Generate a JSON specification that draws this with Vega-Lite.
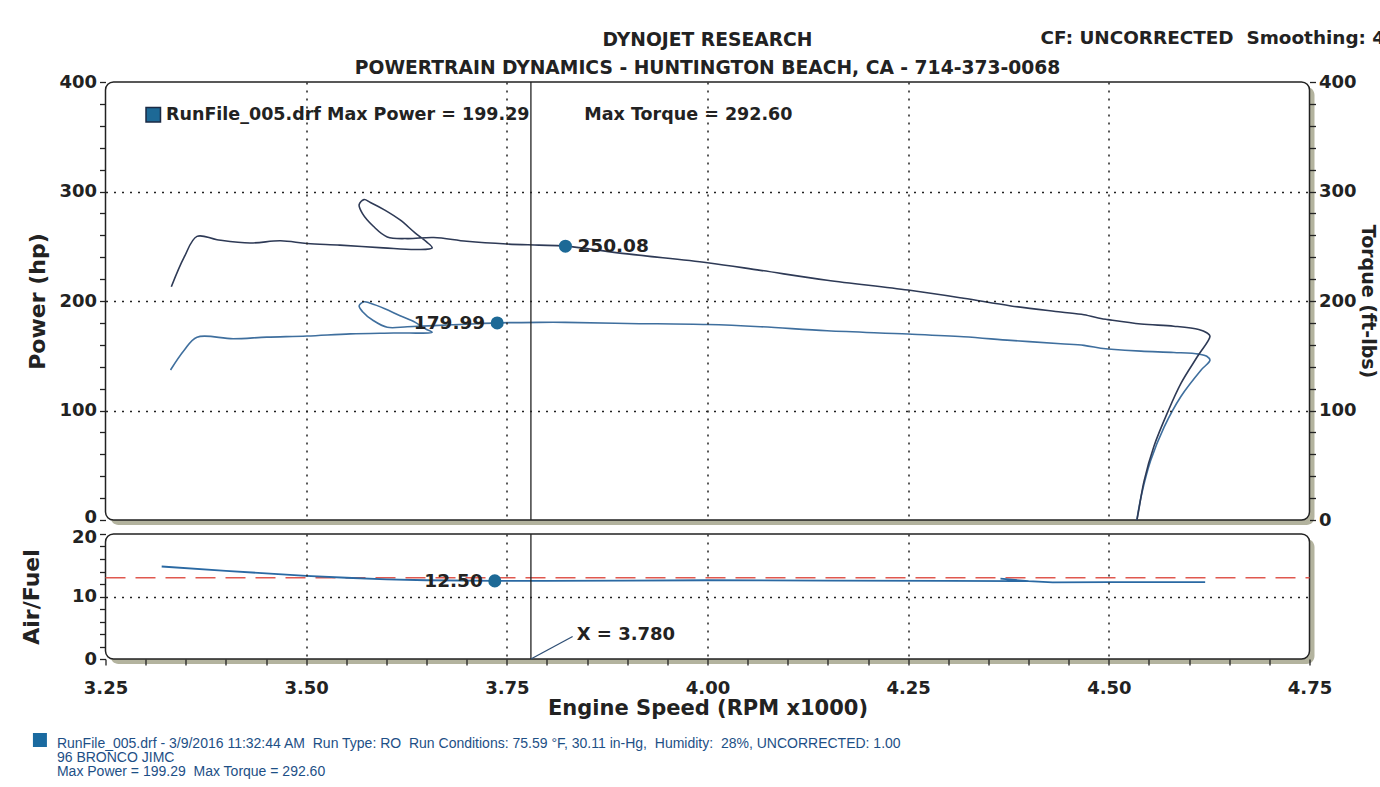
{
  "$schema": "https://vega.github.io/schema/vega-lite/v6.json",
  "background": "white",
  "padding": {"left": 20.5, "top": 29, "right": 0, "bottom": 0},
  "config": {
    "font": "DejaVu Sans",
    "view": {"stroke": null},
    "axis": {
      "labelFont": "DejaVu Sans", "labelFontWeight": "bold", "labelFontSize": 18, "labelColor": "#222",
      "titleFont": "DejaVu Sans", "titleFontWeight": "bold", "titleFontSize": 22, "titleColor": "#222",
      "domain": false, "tickColor": "#222", "tickWidth": 1.3, "tickSize": 6, "labelOverlap": false,
      "gridColor": "#222", "gridDash": [2, 6], "gridWidth": 1.5
    },
    "legend": {
      "labelFont": "DejaVu Sans", "labelFontWeight": "bold", "labelFontSize": 17.5, "labelColor": "#222", "labelLimit": 2000
    }
  },
  "datasets": {
    "torque": [
      {"i": 1, "rpm": 3.332, "value": 213}, {"i": 2, "rpm": 3.348, "value": 240}, {"i": 3, "rpm": 3.364, "value": 259},
      {"i": 4, "rpm": 3.389, "value": 256}, {"i": 5, "rpm": 3.430, "value": 253}, {"i": 6, "rpm": 3.468, "value": 255},
      {"i": 7, "rpm": 3.501, "value": 252.5}, {"i": 8, "rpm": 3.542, "value": 251}, {"i": 9, "rpm": 3.596, "value": 248.5},
      {"i": 10, "rpm": 3.638, "value": 247}, {"i": 11, "rpm": 3.657, "value": 248.5}, {"i": 12, "rpm": 3.650, "value": 254},
      {"i": 13, "rpm": 3.636, "value": 262}, {"i": 14, "rpm": 3.617, "value": 274}, {"i": 15, "rpm": 3.598, "value": 283},
      {"i": 16, "rpm": 3.580, "value": 290}, {"i": 17, "rpm": 3.572, "value": 292.6}, {"i": 18, "rpm": 3.566, "value": 288},
      {"i": 19, "rpm": 3.570, "value": 280}, {"i": 20, "rpm": 3.584, "value": 268}, {"i": 21, "rpm": 3.601, "value": 258.5},
      {"i": 22, "rpm": 3.626, "value": 257}, {"i": 23, "rpm": 3.659, "value": 258}, {"i": 24, "rpm": 3.700, "value": 254.5},
      {"i": 25, "rpm": 3.750, "value": 252}, {"i": 26, "rpm": 3.790, "value": 251}, {"i": 27, "rpm": 3.823, "value": 250.1},
      {"i": 28, "rpm": 3.900, "value": 243}, {"i": 29, "rpm": 4.000, "value": 235}, {"i": 30, "rpm": 4.066, "value": 228},
      {"i": 31, "rpm": 4.149, "value": 219}, {"i": 32, "rpm": 4.250, "value": 210}, {"i": 33, "rpm": 4.319, "value": 202.5},
      {"i": 34, "rpm": 4.378, "value": 195.5}, {"i": 35, "rpm": 4.440, "value": 190}, {"i": 36, "rpm": 4.469, "value": 187.5},
      {"i": 37, "rpm": 4.490, "value": 184}, {"i": 38, "rpm": 4.499, "value": 183}, {"i": 39, "rpm": 4.540, "value": 179},
      {"i": 40, "rpm": 4.581, "value": 177}, {"i": 41, "rpm": 4.612, "value": 174}, {"i": 42, "rpm": 4.622, "value": 171},
      {"i": 43, "rpm": 4.626, "value": 168}, {"i": 44, "rpm": 4.611, "value": 150}, {"i": 45, "rpm": 4.590, "value": 125},
      {"i": 46, "rpm": 4.573, "value": 98}, {"i": 47, "rpm": 4.556, "value": 67}, {"i": 48, "rpm": 4.544, "value": 36},
      {"i": 49, "rpm": 4.537, "value": 8}, {"i": 50, "rpm": 4.535, "value": 0}
    ],
    "power": [
      {"i": 1, "rpm": 3.331, "value": 137}, {"i": 2, "rpm": 3.348, "value": 155}, {"i": 3, "rpm": 3.364, "value": 167},
      {"i": 4, "rpm": 3.409, "value": 165.5}, {"i": 5, "rpm": 3.451, "value": 167}, {"i": 6, "rpm": 3.501, "value": 168},
      {"i": 7, "rpm": 3.555, "value": 170}, {"i": 8, "rpm": 3.609, "value": 170.8}, {"i": 9, "rpm": 3.657, "value": 171.5},
      {"i": 10, "rpm": 3.650, "value": 174}, {"i": 11, "rpm": 3.636, "value": 180.5}, {"i": 12, "rpm": 3.617, "value": 186.5},
      {"i": 13, "rpm": 3.598, "value": 193}, {"i": 14, "rpm": 3.580, "value": 198}, {"i": 15, "rpm": 3.572, "value": 199.3},
      {"i": 16, "rpm": 3.566, "value": 195.5}, {"i": 17, "rpm": 3.570, "value": 190.5}, {"i": 18, "rpm": 3.584, "value": 182},
      {"i": 19, "rpm": 3.601, "value": 176}, {"i": 20, "rpm": 3.626, "value": 176.5}, {"i": 21, "rpm": 3.659, "value": 177.5},
      {"i": 22, "rpm": 3.700, "value": 178.8}, {"i": 23, "rpm": 3.738, "value": 180}, {"i": 24, "rpm": 3.790, "value": 180.5},
      {"i": 25, "rpm": 3.823, "value": 180.5}, {"i": 26, "rpm": 3.900, "value": 179.5}, {"i": 27, "rpm": 4.000, "value": 178.5},
      {"i": 28, "rpm": 4.066, "value": 176.5}, {"i": 29, "rpm": 4.149, "value": 172.8}, {"i": 30, "rpm": 4.250, "value": 169.8},
      {"i": 31, "rpm": 4.319, "value": 167.3}, {"i": 32, "rpm": 4.378, "value": 164}, {"i": 33, "rpm": 4.440, "value": 161},
      {"i": 34, "rpm": 4.469, "value": 159.5}, {"i": 35, "rpm": 4.490, "value": 156.8}, {"i": 36, "rpm": 4.499, "value": 156.2},
      {"i": 37, "rpm": 4.540, "value": 154.2}, {"i": 38, "rpm": 4.581, "value": 153}, {"i": 39, "rpm": 4.612, "value": 151.5},
      {"i": 40, "rpm": 4.622, "value": 149.5}, {"i": 41, "rpm": 4.626, "value": 146}, {"i": 42, "rpm": 4.615, "value": 137},
      {"i": 43, "rpm": 4.590, "value": 113}, {"i": 44, "rpm": 4.569, "value": 85}, {"i": 45, "rpm": 4.552, "value": 54},
      {"i": 46, "rpm": 4.541, "value": 24}, {"i": 47, "rpm": 4.536, "value": 5}, {"i": 48, "rpm": 4.535, "value": 0}
    ],
    "afr": [
      {"i": 1, "rpm": 3.320, "value": 14.8}, {"i": 2, "rpm": 3.400, "value": 14.1}, {"i": 3, "rpm": 3.450, "value": 13.7},
      {"i": 4, "rpm": 3.500, "value": 13.3}, {"i": 5, "rpm": 3.550, "value": 13.0}, {"i": 6, "rpm": 3.600, "value": 12.75},
      {"i": 7, "rpm": 3.650, "value": 12.6}, {"i": 8, "rpm": 3.735, "value": 12.5}, {"i": 9, "rpm": 3.800, "value": 12.5},
      {"i": 10, "rpm": 3.900, "value": 12.55}, {"i": 11, "rpm": 4.000, "value": 12.6}, {"i": 12, "rpm": 4.150, "value": 12.55},
      {"i": 13, "rpm": 4.300, "value": 12.5}, {"i": 14, "rpm": 4.400, "value": 12.45}, {"i": 15, "rpm": 4.365, "value": 12.85},
      {"i": 16, "rpm": 4.400, "value": 12.45}, {"i": 17, "rpm": 4.430, "value": 12.25}, {"i": 18, "rpm": 4.500, "value": 12.3},
      {"i": 19, "rpm": 4.620, "value": 12.3}
    ],
    "target": [{"rpm": 3.25, "value": 13.0}, {"rpm": 4.75, "value": 13.0}],
    "cursor": [{"rpm": 3.78}],
    "leader": [{"rpm": 3.78, "value": 0, "rpm2": 3.832, "value2": 3.6, "label": "X = 3.780"}],
    "marks_top": [
      {"rpm": 3.823, "value": 250.08, "label": "250.08", "side": "right", "run": "RunFile_005.drf Max Power = 199.29\u00a0\u00a0\u00a0\u00a0\u00a0\u00a0\u00a0\u00a0\u00a0Max Torque = 292.60"},
      {"rpm": 3.738, "value": 179.99, "label": "179.99", "side": "left", "run": "RunFile_005.drf Max Power = 199.29\u00a0\u00a0\u00a0\u00a0\u00a0\u00a0\u00a0\u00a0\u00a0Max Torque = 292.60"}
    ],
    "marks_afr": [{"rpm": 3.735, "value": 12.5, "label": "12.50"}],
    "titles": [
      {"rpm": 4.0, "value": 438.4, "text": "DYNOJET RESEARCH"},
      {"rpm": 4.0, "value": 412.8, "text": "POWERTRAIN DYNAMICS - HUNTINGTON BEACH, CA - 714-373-0068"}
    ],
    "cf": [{"rpm": 4.415, "value": 440, "text": "CF: UNCORRECTED\u00a0\u00a0Smoothing: 4"}],
    "footer": [
      {"rpm": 3.1895, "value": -13.6, "text": "RunFile_005.drf - 3/9/2016 11:32:44 AM\u00a0\u00a0Run Type: RO\u00a0\u00a0Run Conditions: 75.59 \u00b0F, 30.11 in-Hg,\u00a0\u00a0Humidity:\u00a0\u00a028%, UNCORRECTED: 1.00"},
      {"rpm": 3.1895, "value": -15.84, "text": "96 BRONCO JIMC"},
      {"rpm": 3.1895, "value": -18.08, "text": "Max Power = 199.29\u00a0\u00a0Max Torque = 292.60"}
    ],
    "footer_key": [{"rpm": 3.1683, "value": -12.96}],
    "frame": [{}]
  },
  "spacing": 14,
  "bounds": "flush",
  "resolve": {"legend": {"color": "independent"}},
  "vconcat": [
    {
      "width": 1204,
      "height": 438,
      "resolve": {"axis": {"y": "independent"}},
      "layer": [
        {
          "data": {"name": "frame"},
          "mark": {"type": "rect", "fill": "#b3b39e", "cornerRadius": 8, "xOffset": 5, "x2Offset": 5, "yOffset": 5, "y2Offset": 5},
          "encoding": {
            "x": {"datum": 3.25, "type": "quantitative", "scale": {"domain": [3.25, 4.75], "nice": false, "zero": false},
                  "axis": {"values": [3.5, 3.75, 4.0, 4.25, 4.5], "labels": false, "ticks": false, "grid": true, "title": null, "zindex": 1}},
            "x2": {"datum": 4.75},
            "y": {"datum": 0, "type": "quantitative", "scale": {"domain": [0, 400], "nice": false}, "axis": null},
            "y2": {"datum": 400}
          }
        },
        {
          "data": {"name": "frame"},
          "mark": {"type": "rect", "fill": "white", "stroke": "#222", "strokeWidth": 1.5, "cornerRadius": 8},
          "encoding": {
            "x": {"datum": 3.25, "type": "quantitative"},
            "x2": {"datum": 4.75},
            "y": {"datum": 0, "type": "quantitative", "axis": null},
            "y2": {"datum": 400}
          }
        },
        {
          "data": {"name": "power"},
          "mark": {"type": "line", "color": "#3f6f9e", "strokeWidth": 1.6, "interpolate": "catmull-rom"},
          "encoding": {
            "x": {"field": "rpm", "type": "quantitative"},
            "y": {"field": "value", "type": "quantitative", "axis": {
              "orient": "left", "title": "Power (hp)", "titlePadding": 9.5, "labelPadding": 3, "zindex": 1, "labelOverlap": false,
              "values": [0, 20, 40, 60, 80, 100, 120, 140, 160, 180, 200, 220, 240, 260, 280, 300, 320, 340, 360, 380, 400],
              "labelExpr": "datum.value % 100 === 0 ? datum.label : ''",
              "labelOffset": {"condition": {"test": "datum.value === 0", "value": -3}, "value": 0},
              "grid": true,
              "gridOpacity": {"condition": {"test": "datum.value % 100 === 0 && datum.value > 0 && datum.value < 400", "value": 1}, "value": 0}
            }},
            "order": {"field": "i", "type": "quantitative"}
          }
        },
        {
          "data": {"name": "torque"},
          "mark": {"type": "line", "color": "#2e3a56", "strokeWidth": 1.6, "interpolate": "catmull-rom"},
          "encoding": {
            "x": {"field": "rpm", "type": "quantitative"},
            "y": {"field": "value", "type": "quantitative", "axis": {
              "orient": "right", "title": "Torque (ft-lbs)", "titleFontSize": 19, "titlePadding": 1, "labelPadding": 3, "zindex": 1, "labelOverlap": false,
              "values": [0, 20, 40, 60, 80, 100, 120, 140, 160, 180, 200, 220, 240, 260, 280, 300, 320, 340, 360, 380, 400],
              "labelExpr": "datum.value % 100 === 0 ? datum.label : ''",
              "grid": false
            }},
            "order": {"field": "i", "type": "quantitative"}
          }
        },
        {
          "data": {"name": "cursor"},
          "mark": {"type": "rule", "color": "#222", "strokeWidth": 1.3},
          "encoding": {"x": {"field": "rpm", "type": "quantitative"}}
        },
        {
          "data": {"name": "marks_top"},
          "mark": {"type": "point", "filled": true, "size": 170, "opacity": 1},
          "encoding": {
            "x": {"field": "rpm", "type": "quantitative"},
            "y": {"field": "value", "type": "quantitative", "axis": null},
            "color": {"field": "run", "type": "nominal", "scale": {"range": ["#1d6996"]},
                      "legend": {"title": null, "orient": "none", "legendX": 39, "legendY": 24, "symbolType": "square", "symbolSize": 210,
                                 "symbolStrokeColor": "#1b2a44", "symbolStrokeWidth": 1.5, "labelOffset": 4}}
          }
        },
        {
          "data": {"name": "marks_top"},
          "transform": [{"filter": "datum.side === 'right'"}],
          "mark": {"type": "text", "align": "left", "baseline": "middle", "dx": 12, "fontSize": 18.5, "fontWeight": "bold", "color": "#222", "font": "DejaVu Sans"},
          "encoding": {
            "x": {"field": "rpm", "type": "quantitative"},
            "y": {"field": "value", "type": "quantitative", "axis": null},
            "text": {"field": "label"}
          }
        },
        {
          "data": {"name": "marks_top"},
          "transform": [{"filter": "datum.side === 'left'"}],
          "mark": {"type": "text", "align": "right", "baseline": "middle", "dx": -12, "fontSize": 18.5, "fontWeight": "bold", "color": "#222", "font": "DejaVu Sans"},
          "encoding": {
            "x": {"field": "rpm", "type": "quantitative"},
            "y": {"field": "value", "type": "quantitative", "axis": null},
            "text": {"field": "label"}
          }
        },
        {
          "data": {"name": "titles"},
          "mark": {"type": "text", "align": "center", "baseline": "middle", "fontSize": 18.7, "fontWeight": "bold", "color": "#222", "font": "DejaVu Sans"},
          "encoding": {
            "x": {"field": "rpm", "type": "quantitative"},
            "y": {"field": "value", "type": "quantitative", "axis": null},
            "text": {"field": "text"}
          }
        },
        {
          "data": {"name": "cf"},
          "mark": {"type": "text", "align": "left", "baseline": "middle", "fontSize": 18.4, "fontWeight": "bold", "color": "#222", "font": "DejaVu Sans"},
          "encoding": {
            "x": {"field": "rpm", "type": "quantitative"},
            "y": {"field": "value", "type": "quantitative", "axis": null},
            "text": {"field": "text"}
          }
        }
      ]
    },
    {
      "width": 1204,
      "height": 125,
      "resolve": {"axis": {"x": "independent", "y": "independent"}},
      "layer": [
        {
          "data": {"name": "frame"},
          "mark": {"type": "rect", "fill": "#b3b39e", "cornerRadius": 8, "xOffset": 5, "x2Offset": 5, "yOffset": 5, "y2Offset": 5},
          "encoding": {
            "x": {"datum": 3.25, "type": "quantitative", "scale": {"domain": [3.25, 4.75], "nice": false, "zero": false}, "axis": null},
            "x2": {"datum": 4.75},
            "y": {"datum": 0, "type": "quantitative", "scale": {"domain": [0, 20], "nice": false}, "axis": null},
            "y2": {"datum": 20}
          }
        },
        {
          "data": {"name": "frame"},
          "mark": {"type": "rect", "fill": "white", "stroke": "#222", "strokeWidth": 1.5, "cornerRadius": 8},
          "encoding": {
            "x": {"datum": 3.25, "type": "quantitative", "axis": null},
            "x2": {"datum": 4.75},
            "y": {"datum": 0, "type": "quantitative", "axis": null},
            "y2": {"datum": 20}
          }
        },
        {
          "data": {"name": "target"},
          "mark": {"type": "line", "color": "#e0584f", "strokeWidth": 1.6, "strokeDash": [20, 10]},
          "encoding": {
            "x": {"field": "rpm", "type": "quantitative", "axis": null},
            "y": {"field": "value", "type": "quantitative", "axis": null}
          }
        },
        {
          "data": {"name": "afr"},
          "mark": {"type": "line", "color": "#2a69a3", "strokeWidth": 1.8},
          "encoding": {
            "x": {"field": "rpm", "type": "quantitative",
                  "axis": {
                    "values": [3.25, 3.3, 3.35, 3.4, 3.45, 3.5, 3.55, 3.6, 3.65, 3.7, 3.75, 3.8, 3.85, 3.9, 3.95, 4.0, 4.05, 4.1, 4.15, 4.2, 4.25, 4.3, 4.35, 4.4, 4.45, 4.5, 4.55, 4.6, 4.65, 4.7, 4.75],
                    "labelExpr": "abs(datum.value * 4 - round(datum.value * 4)) < 0.001 ? format(datum.value, '.2f') : ''",
                    "labelPadding": 14, "labelFlush": false, "labelOverlap": false, "zindex": 1,
                    "title": "Engine Speed (RPM x1000)", "titleFontSize": 21, "titlePadding": 0,
                    "grid": true,
                    "gridOpacity": {"condition": {"test": "abs(datum.value * 4 - round(datum.value * 4)) < 0.001 && datum.value > 3.3 && datum.value < 4.7", "value": 1}, "value": 0}
                  }},
            "y": {"field": "value", "type": "quantitative",
                  "axis": {
                    "values": [0, 2, 4, 6, 8, 10, 12, 14, 16, 18, 20],
                    "labelExpr": "datum.value % 10 === 0 ? datum.label : ''",
                    "labelOffset": {"condition": {"test": "datum.value === 20", "value": 3}, "value": 0},
                    "labelPadding": 3, "labelOverlap": false, "zindex": 1, "title": "Air/Fuel", "titlePadding": 27.5,
                    "grid": true,
                    "gridOpacity": {"condition": {"test": "datum.value === 10", "value": 1}, "value": 0}
                  }},
            "order": {"field": "i", "type": "quantitative"}
          }
        },
        {
          "data": {"name": "cursor"},
          "mark": {"type": "rule", "color": "#222", "strokeWidth": 1.3},
          "encoding": {"x": {"field": "rpm", "type": "quantitative", "axis": null}}
        },
        {
          "data": {"name": "leader"},
          "mark": {"type": "rule", "color": "#2f4f75", "strokeWidth": 1.3},
          "encoding": {
            "x": {"field": "rpm", "type": "quantitative", "axis": null},
            "y": {"field": "value", "type": "quantitative", "axis": null},
            "x2": {"field": "rpm2"},
            "y2": {"field": "value2"}
          }
        },
        {
          "data": {"name": "leader"},
          "mark": {"type": "text", "align": "left", "baseline": "middle", "dx": 4, "dy": -2, "fontSize": 18, "fontWeight": "bold", "color": "#222", "font": "DejaVu Sans"},
          "encoding": {
            "x": {"field": "rpm2", "type": "quantitative", "axis": null},
            "y": {"field": "value2", "type": "quantitative", "axis": null},
            "text": {"field": "label"}
          }
        },
        {
          "data": {"name": "marks_afr"},
          "mark": {"type": "point", "filled": true, "size": 170, "opacity": 1, "color": "#1d6996"},
          "encoding": {
            "x": {"field": "rpm", "type": "quantitative", "axis": null},
            "y": {"field": "value", "type": "quantitative", "axis": null}
          }
        },
        {
          "data": {"name": "marks_afr"},
          "mark": {"type": "text", "align": "right", "baseline": "middle", "dx": -12, "fontSize": 18.5, "fontWeight": "bold", "color": "#222", "font": "DejaVu Sans"},
          "encoding": {
            "x": {"field": "rpm", "type": "quantitative", "axis": null},
            "y": {"field": "value", "type": "quantitative", "axis": null},
            "text": {"field": "label"}
          }
        },
        {
          "data": {"name": "footer_key"},
          "mark": {"type": "point", "shape": "square", "filled": true, "size": 196, "opacity": 1, "color": "#1a6aa0"},
          "encoding": {
            "x": {"field": "rpm", "type": "quantitative", "axis": null},
            "y": {"field": "value", "type": "quantitative", "axis": null}
          }
        },
        {
          "data": {"name": "footer"},
          "mark": {"type": "text", "align": "left", "baseline": "middle", "fontSize": 14, "color": "#1d4f86", "font": "Liberation Sans"},
          "encoding": {
            "x": {"field": "rpm", "type": "quantitative", "axis": null},
            "y": {"field": "value", "type": "quantitative", "axis": null},
            "text": {"field": "text"}
          }
        }
      ]
    }
  ]
}
